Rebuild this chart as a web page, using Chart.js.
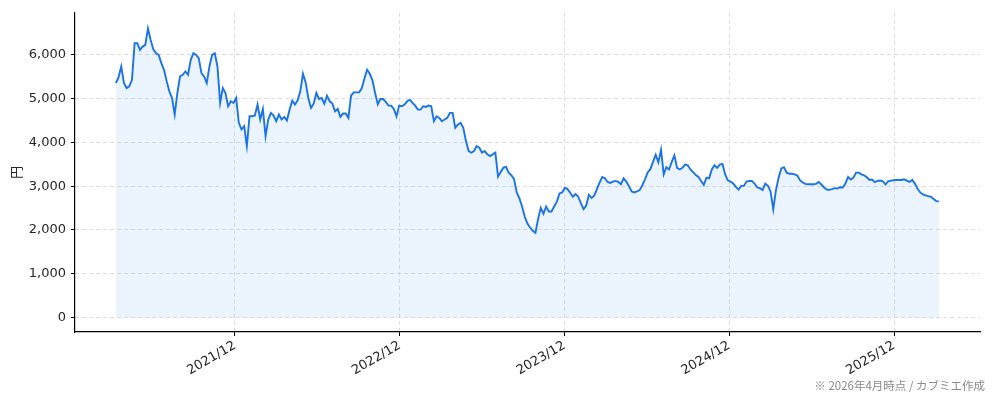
<!DOCTYPE html>
<html>
<head>
<meta charset="utf-8">
<script src="https://cdn.jsdelivr.net/npm/chart.js@4.4.1/dist/chart.umd.min.js"></script>
<style>
  html, body { margin: 0; padding: 0; background: #fff; }
  #wrap { position: relative; width: 994px; height: 401px; }
  #note {
    position: absolute; right: 9px; top: 377px;
    font: 11.5px "Noto Sans CJK JP", sans-serif; color: #8a8a8a; white-space: nowrap;
  }
</style>
</head>
<body>
<div id="wrap">
  <canvas id="chart" width="994" height="401"></canvas>
  <div id="note">※ 2026年4月時点 / カブミエ作成</div>
</div>
<script>
// Price series, roughly every 6 days, Mar 2021 -> Apr 2026
const prices = [
  5356, 5492, 5735, 5356, 5242, 5280, 5432, 6265, 6265, 6114, 6189, 6227, 6606, 6341, 6129, 6038, 6000, 5811, 5659, 5394,
  5167, 5015, 4636, 5129, 5508, 5545, 5621, 5545, 5886, 6038, 6000, 5924, 5583, 5508, 5356, 5735, 6000, 6038, 5735, 4901,
  5242, 5129, 4826, 4939, 4901, 5015, 4447, 4295, 4371, 3917, 4598, 4598,
  4614, 4864, 4523, 4765, 4144, 4523, 4674, 4614, 4485, 4636, 4523, 4583, 4500, 4750, 4955, 4864, 4962, 5167, 5568, 5371,
  5015, 4788, 4886, 5129, 4992, 5015, 4886, 5068, 4939, 4886, 4712, 4765, 4583, 4659, 4659, 4561, 5068, 5144, 5144, 5144,
  5235, 5462, 5659, 5568, 5417, 5129, 4871, 4992, 4992, 4924, 4841,
  4841, 4765, 4598, 4841, 4826, 4864, 4939, 4977, 4902, 4841, 4750, 4750, 4826, 4811, 4841, 4826, 4485, 4598, 4561, 4485,
  4523, 4561, 4674, 4674, 4333, 4409, 4447, 4333, 4030, 3803, 3765, 3803, 3917, 3879, 3765, 3803, 3727, 3689, 3727, 3765,
  3220, 3326, 3424, 3439, 3311, 3250, 3159, 2856, 2720, 2538, 2300,
  2146, 2056, 1981, 1936, 2258, 2506, 2371, 2536, 2423, 2423, 2536, 2648, 2835, 2858, 2963, 2933, 2850, 2760, 2820, 2760,
  2611, 2476, 2558, 2805, 2730, 2783, 2933, 3082, 3210, 3180, 3097, 3075, 3105, 3120, 3097, 3045, 3180, 3105, 3000, 2880,
  2858, 2880, 2910, 3022, 3157, 3315, 3389, 3554, 3719, 3547,
  3831, 3270, 3434, 3382, 3554, 3704, 3419, 3382, 3419, 3494, 3479, 3382, 3322, 3255, 3210, 3120, 3030, 3195, 3180, 3382,
  3479, 3419, 3494, 3509, 3270, 3135, 3105, 3060, 2985, 2925, 3007, 3007, 3105, 3120, 3120, 3060, 2970, 2955, 2910, 3060,
  3007, 2880, 2470, 2910, 3195, 3404, 3434, 3307, 3285, 3285, 3270,
  3242, 3136, 3083, 3053, 3045, 3045, 3045, 3053, 3098, 3038, 2970, 2925, 2917, 2932, 2955, 2947, 2977, 2970, 3060, 3211,
  3151, 3196, 3309, 3309, 3272, 3249, 3204, 3143, 3151, 3091, 3121, 3128, 3113, 3038, 3113, 3128, 3136, 3143, 3143, 3143,
  3158, 3128, 3098, 3143, 3060, 2940, 2857, 2811, 2789, 2774, 2758, 2706, 2660, 2653
];

// x is measured in months since 2021/01
const firstMonth = 2.33;   // ~2021/03/10
const lastMonth = 62.27;   // ~2026/04
const tickMonths = [11, 23, 35, 47, 59];
const tickLabels = ['2021/12', '2022/12', '2023/12', '2024/12', '2025/12'];
const yTicks = [0, 1000, 2000, 3000, 4000, 5000, 6000];

const step = (lastMonth - firstMonth) / (prices.length - 1);
const points = prices.map((v, i) => ({ x: firstMonth + i * step, y: v }));

const FONT = '"DejaVu Sans", "Noto Sans CJK JP", sans-serif';
const GRID = '#dedede';

new Chart(document.getElementById('chart'), {
  type: 'line',
  data: {
    datasets: [{
      data: points,
      borderColor: '#1a73e8',
      backgroundColor: 'rgba(26, 115, 232, 0.085)',
      borderWidth: 1.9,
      pointRadius: 0,
      tension: 0,
      fill: 'origin'
    }]
  },
  options: {
    responsive: false,
    animation: false,
    layout: { padding: { top: 10, right: 14, left: 0, bottom: 0 } },
    plugins: {
      legend: { display: false },
      tooltip: { enabled: false }
    },
    scales: {
      x: {
        type: 'linear',
        min: -0.65,
        max: 65.26,
        afterFit: (s) => { s.height = 69; },
        afterBuildTicks: (s) => { s.ticks = tickMonths.map(v => ({ value: v })); },
        grid: { color: GRID, tickColor: '#000', tickLength: 4, tickWidth: 1 },
        border: { color: '#000', width: 1.2, dash: [4, 3] },
        ticks: {
          color: '#262626',
          font: { family: FONT, size: 13 },
          maxRotation: 30,
          minRotation: 30,
          padding: 2,
          callback: (v) => tickLabels[tickMonths.indexOf(v)]
        }
      },
      y: {
        min: -331,
        max: 6961,
        afterFit: (s) => { s.width = 75; },
        afterBuildTicks: (s) => { s.ticks = yTicks.map(v => ({ value: v })); },
        grid: { color: GRID, tickColor: '#000', tickLength: 4, tickWidth: 1 },
        border: { color: '#000', width: 1.2, dash: [4, 3] },
        title: {
          display: true,
          text: '円',
          color: '#262626',
          font: { family: '"Noto Sans CJK JP", sans-serif', size: 13 },
          padding: { top: 8, bottom: 0 }
        },
        ticks: {
          color: '#262626',
          font: { family: FONT, size: 13 },
          padding: 5,
          callback: (v) => v.toLocaleString('en-US')
        }
      }
    }
  }
});
</script>
</body>
</html>
